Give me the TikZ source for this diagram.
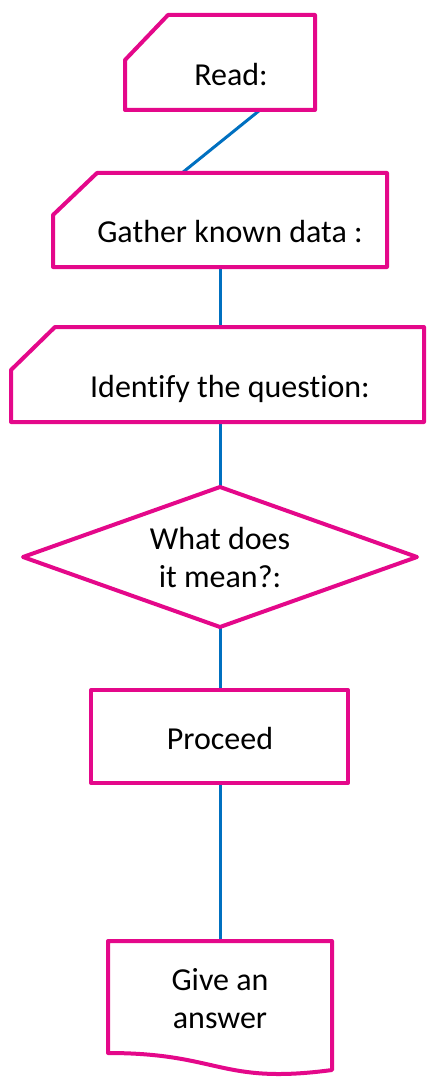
\documentclass[tikz,border=0pt]{standalone}
\usepackage{fontspec}
\setmainfont{Carlito}[Ligatures=NoCommon]
\definecolor{flowpink}{RGB}{228,8,138}
\definecolor{flowblue}{RGB}{0,112,192}
\begin{document}
\begin{tikzpicture}[x=1pt,y=-1pt,
  outline/.style={draw=flowpink, line width=4pt, line join=round},
  link/.style={draw=flowblue, line width=3pt},
  label/.style={anchor=base, inner sep=0pt, font=\fontsize{32}{38}\selectfont, align=center}]
\useasboundingbox (0,0) rectangle (426,1078);

% connection points on the shapes
\coordinate (read-out)     at (260,110);
\coordinate (gather-in)    at (182,173);
\coordinate (gather-out)   at (220,267);
\coordinate (identify-in)  at (220,327);
\coordinate (identify-out) at (220,422);
\coordinate (mean-in)      at (220,487);
\coordinate (mean-out)     at (220,627);
\coordinate (proceed-in)   at (220,690);
\coordinate (proceed-out)  at (220,783);
\coordinate (answer-in)    at (220,941);

% connectors
\draw[link] (read-out) -- (gather-in);
\draw[link] (gather-out) -- (identify-in);
\draw[link] (identify-out) -- (mean-in);
\draw[link] (mean-out) -- (proceed-in);
\draw[link] (proceed-out) -- (answer-in);

% card shapes
\draw[outline] (125,60) -- (168,15) -- (315,15) -- (315,110) -- (125,110) -- cycle;
\draw[outline] (53,215) -- (97,173) -- (387,173) -- (387,267) -- (53,267) -- cycle;
\draw[outline] (11,370) -- (55,327) -- (424,327) -- (424,422) -- (11,422) -- cycle;

% decision
\draw[outline] (220,487) -- (417,557) -- (220,627) -- (23,557) -- cycle;

% process
\draw[outline] (91,690) rectangle (348,783);

% document
\draw[outline] (108,941) -- (332,941) -- (332,1070)
  .. controls (220,1085) and (220,1053) .. (108,1053) -- cycle;

% texts (base anchor sits on the last line's baseline)
\node[label] (read)     at (231,86)   {Read:};
\node[label] (gather)   at (230,242)  {Gather known data :};
\node[label] (identify) at (230,397)  {Identify the question:};
\node[label] (mean)     at (220,587)  {What does\\it mean?:};
\node[label] (proceed)  at (220,749)  {Proceed};
\node[label] (answer)   at (220,1028) {Give an\\answer};
\end{tikzpicture}
\end{document}
